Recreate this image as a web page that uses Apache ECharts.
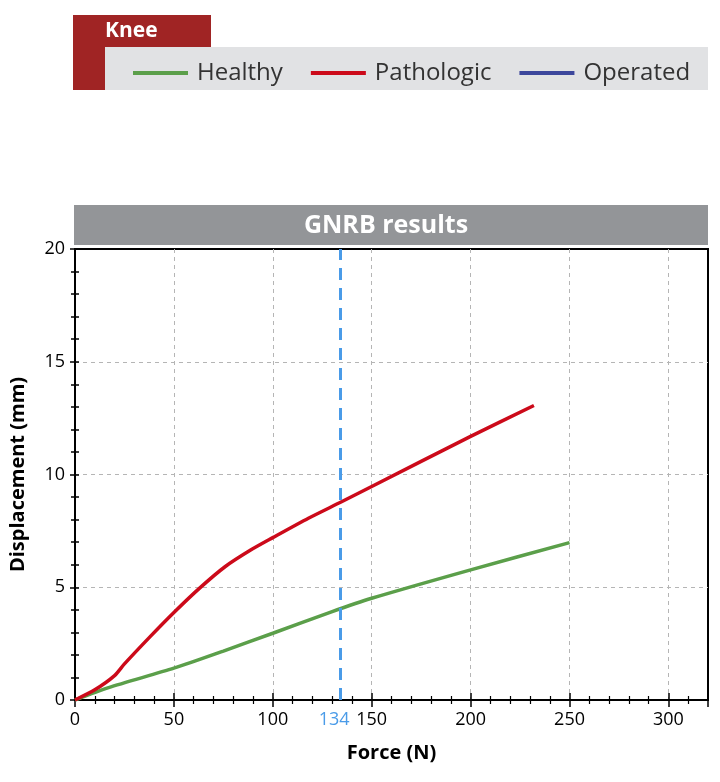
<!DOCTYPE html>
<html>
<head>
<meta charset="utf-8">
<script src="https://cdn.jsdelivr.net/npm/echarts@6/dist/echarts.min.js"></script>
<style>
  html, body { margin: 0; padding: 0; background: #fff; }
  #chart { width: 720px; height: 782px; }
</style>
</head>
<body>
<div id="chart"></div>
<script>
// values
var healthyForce = [0, 17, 50, 75, 100, 130, 150, 200, 250]
var healthyDisp = [0, 0.55, 1.41, 2.17, 2.96, 3.92, 4.51, 5.77, 6.98]
var pathoForce = [0, 10, 20, 25, 38, 50, 63, 76, 89, 100, 118, 135, 150, 200, 232]
var pathoDisp = [0, 0.45, 1.08, 1.6, 2.81, 3.88, 4.96, 5.92, 6.66, 7.2, 8.06, 8.8, 9.47, 11.69, 13.06]
var operatedForce = []
var operatedDisp = []
var markForce = 134

function pairs(xs, ys) {
  return xs.map(function(x, i) { return [x, ys[i]] })
}

var font = 'Open Sans'
var chart = echarts.init(document.getElementById('chart'))

// two axes on each side: outward ticks + labels, and inward ticks, so ticks cross the line
var xBase = {
  type: 'value', min: 0, max: 320, interval: 50, position: 'bottom',
  axisLine: { show: true, lineStyle: { color: '#000', width: 1.5 } }
}
var yBase = {
  type: 'value', min: 0, max: 20, interval: 5, position: 'left',
  axisLine: { show: true, lineStyle: { color: '#000', width: 1.5 } }
}
var dashGrid = { show: true, showMinLine: false, showMaxLine: false, lineStyle: { color: '#b5b5b5', type: [4, 4], width: 1 } }

chart.setOption({
  textStyle: { fontFamily: font },
  graphic: [
    { type: 'rect', shape: { x: 73, y: 15, width: 138, height: 32 }, style: { fill: '#a02424' } },
    { type: 'text', x: 105, y: 31, style: { text: 'Knee', fill: '#fff', font: 'bold 21px "Open Sans"', verticalAlign: 'middle' } },
    { type: 'rect', shape: { x: 73, y: 47, width: 32, height: 43 }, style: { fill: '#a02424' } },
    { type: 'rect', shape: { x: 105, y: 47, width: 603, height: 43 }, style: { fill: '#e1e2e4' } },
    { type: 'rect', shape: { x: 74, y: 205, width: 634, height: 40 }, style: { fill: '#939598' } },
    { type: 'text', x: 386, y: 226, style: { text: 'GNRB results', fill: '#fff', font: 'bold 25px "Open Sans"', align: 'center', verticalAlign: 'middle' } }
  ],
  legend: {
    left: 133, top: 61, padding: 0,
    icon: 'rect', itemWidth: 55, itemHeight: 4, itemGap: 28,
    textStyle: { fontSize: 24, color: '#333', fontFamily: font, padding: [0, 0, 0, 4] },
    data: ['Healthy', 'Pathologic', 'Operated']
  },
  grid: {
    left: 74, right: 12, top: 249, bottom: 82,
    show: true, borderColor: '#000', borderWidth: 2, backgroundColor: 'transparent'
  },
  xAxis: [
    Object.assign({}, xBase, {
      name: 'Force (N)', nameLocation: 'middle', nameGap: 43,
      nameTextStyle: { fontSize: 20, fontWeight: 'bold', color: '#000' },
      axisTick: { show: true, length: 7, lineStyle: { color: '#000', width: 1.5 } },
      minorTick: { show: true, splitNumber: 5, length: 4, lineStyle: { color: '#000', width: 1.2 } },
      axisLabel: { fontSize: 18, color: '#000', margin: 11, showMaxLabel: false },
      splitLine: dashGrid
    }),
    Object.assign({}, xBase, {
      axisTick: { show: true, inside: true, length: 7, lineStyle: { color: '#000', width: 1.5 } },
      minorTick: { show: true, splitNumber: 5, length: 4, lineStyle: { color: '#000', width: 1.2 } },
      axisLabel: { show: false },
      splitLine: { show: false }
    })
  ],
  yAxis: [
    Object.assign({}, yBase, {
      name: 'Displacement (mm)', nameLocation: 'middle', nameGap: 47,
      nameTextStyle: { fontSize: 20, fontWeight: 'bold', color: '#000' },
      axisTick: { show: true, length: 5, lineStyle: { color: '#000', width: 1.5 } },
      minorTick: { show: true, splitNumber: 5, length: 4, lineStyle: { color: '#000', width: 1.5 } },
      axisLabel: { fontSize: 18, color: '#000', margin: 10 },
      splitLine: dashGrid
    }),
    Object.assign({}, yBase, {
      axisTick: { show: true, inside: true, length: 4, lineStyle: { color: '#000', width: 1.5 } },
      minorTick: { show: true, splitNumber: 5, length: 4, lineStyle: { color: '#000', width: 1.5 } },
      axisLabel: { show: false },
      splitLine: { show: false }
    })
  ],
  series: [
    {
      name: 'Healthy', type: 'line', smooth: 0.25, showSymbol: false,
      color: '#5b9f4a', lineStyle: { width: 3.5 },
      data: pairs(healthyForce, healthyDisp),
      markLine: {
        silent: true, symbol: 'none',
        lineStyle: { color: '#4a9be8', type: [12, 8], width: 3 },
        label: { position: 'start', formatter: String(markForce), color: '#4a9be8', fontSize: 18, distance: 11, offset: [-6, 0], fontFamily: font },
        data: [{ xAxis: markForce }]
      }
    },
    {
      name: 'Pathologic', type: 'line', smooth: 0.25, showSymbol: false,
      color: '#cc0a1a', lineStyle: { width: 3.5 },
      data: pairs(pathoForce, pathoDisp)
    },
    {
      name: 'Operated', type: 'line', showSymbol: false,
      color: '#3c479c', lineStyle: { width: 3.5 },
      data: pairs(operatedForce, operatedDisp)
    }
  ]
})
</script>
</body>
</html>
